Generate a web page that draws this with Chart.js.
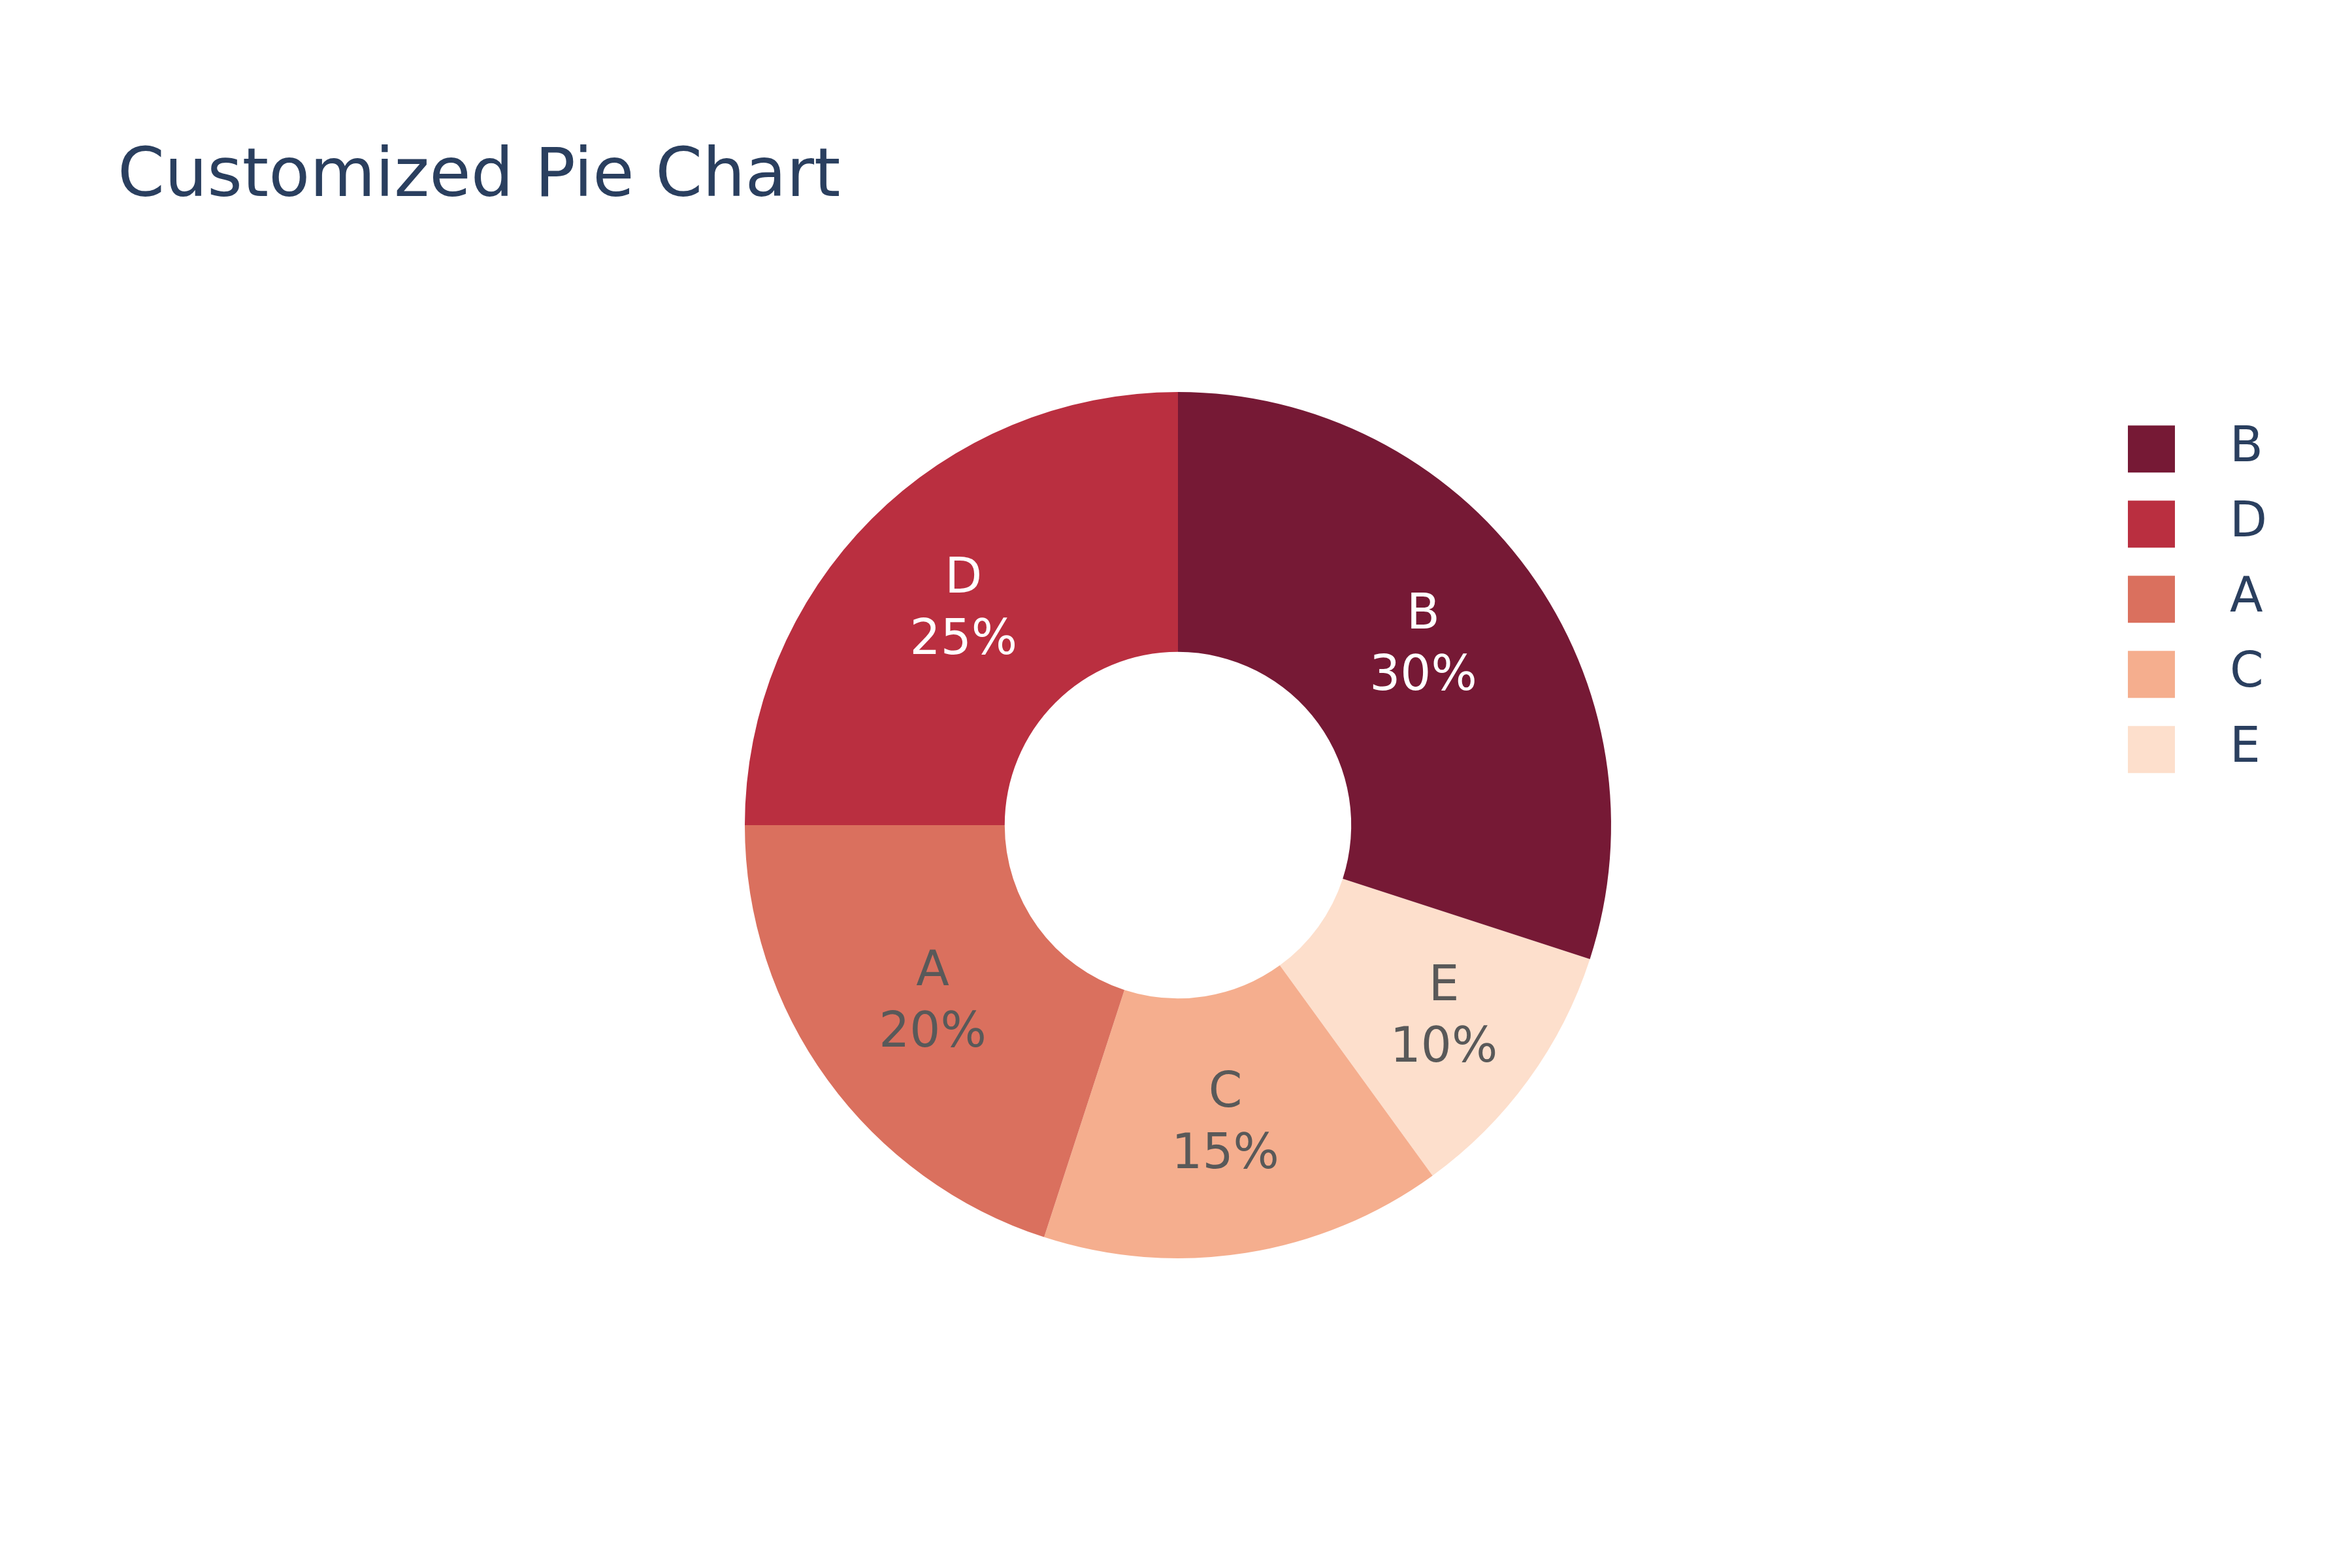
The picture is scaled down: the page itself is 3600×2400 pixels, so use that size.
<!DOCTYPE html>
<html>
<head>
<meta charset="utf-8">
<title>Customized Pie Chart</title>
<script src="https://cdn.jsdelivr.net/npm/chart.js@4"></script>
<style>
  html, body { margin: 0; padding: 0; background: #fff; }
  canvas { display: block; }
</style>
</head>
<body>
<canvas id="pieChart" width="3600" height="2400"></canvas>
<script>
// data (legend order)
const chartTitle = 'Customized Pie Chart';
const categories = ['B', 'D', 'A', 'C', 'E'];
const shares = [30, 25, 20, 15, 10];
const sliceColors = [
    'rgba(103, 0, 31, 0.9)',
    'rgba(178, 24, 43, 0.9)',
    'rgba(214, 96, 77, 0.9)',
    'rgba(244, 165, 130, 0.9)',
    'rgba(253, 219, 199, 0.9)'
];
const labelColors = ['#ffffff', '#ffffff', '#595959', '#595959', '#595959'];

const fontFamily = '"DejaVu Sans", Verdana, sans-serif';
const titleColor = '#2a3f5f';
// the small slice has its text pushed a bit outward
const labelPush = { E: 39 };

// slices run counter-clockwise in the picture, so draw them in reverse
const drawOrder = categories.map((_, i) => i).reverse();
const pick = (arr) => drawOrder.map(i => arr[i]);

// title at the top left, plotly style
const titlePlugin = {
    id: 'leftTitle',
    afterDraw(chart) {
        const ctx = chart.ctx;
        ctx.save();
        ctx.font = '103px ' + fontFamily;
        ctx.fillStyle = titleColor;
        ctx.textAlign = 'left';
        ctx.textBaseline = 'alphabetic';
        ctx.fillText(chartTitle, 180, 300);
        ctx.restore();
    }
};

// label + percent inside each slice
const sliceLabels = {
    id: 'sliceLabels',
    afterDatasetsDraw(chart) {
        const ctx = chart.ctx;
        const meta = chart.getDatasetMeta(0);
        const values = chart.data.datasets[0].data;
        const total = values.reduce((a, b) => a + b, 0);
        const colors = pick(labelColors);
        ctx.save();
        ctx.font = '74px ' + fontFamily;
        ctx.textAlign = 'center';
        ctx.textBaseline = 'middle';
        meta.data.forEach((arc, i) => {
            const name = chart.data.labels[i];
            const a = (arc.startAngle + arc.endAngle) / 2;
            const r = (arc.innerRadius + arc.outerRadius) / 2 + (labelPush[name] || 0);
            const px = arc.x + Math.cos(a) * r;
            const py = arc.y + Math.sin(a) * r;
            const pct = Math.round(values[i] / total * 100) + '%';
            ctx.fillStyle = colors[i];
            ctx.fillText(name, px, py - 47);
            ctx.fillText(pct, px, py + 47);
        });
        ctx.restore();
    }
};

const ctx = document.getElementById('pieChart').getContext('2d');
const pieChart = new Chart(ctx, {
    type: 'doughnut',
    data: {
        labels: pick(categories),
        datasets: [{
            data: pick(shares),
            backgroundColor: pick(sliceColors),
            borderWidth: 0,
            hoverOffset: 0
        }]
    },
    options: {
        responsive: false,
        devicePixelRatio: 1,
        animation: false,
        cutout: '40%',
        rotation: 108,
        layout: {
            padding: { top: 600, bottom: 474, left: 390, right: 120 }
        },
        plugins: {
            title: { display: false },
            tooltip: { enabled: false },
            legend: {
                display: true,
                position: 'right',
                align: 'start',
                title: { display: true, text: '', font: { size: 1 }, padding: { top: 4, bottom: 4 } },
                labels: {
                    boxWidth: 72,
                    boxHeight: 72,
                    padding: 41,
                    font: { family: fontFamily, size: 74 },
                    color: titleColor,
                    generateLabels: (chart) => categories.map((c, i) => ({
                        text: '  ' + c,
                        fillStyle: sliceColors[i],
                        strokeStyle: sliceColors[i],
                        lineWidth: 0,
                        fontColor: titleColor,
                        hidden: false,
                        index: drawOrder.indexOf(i)
                    }))
                }
            }
        }
    },
    plugins: [sliceLabels, titlePlugin]
});
</script>
</body>
</html>
